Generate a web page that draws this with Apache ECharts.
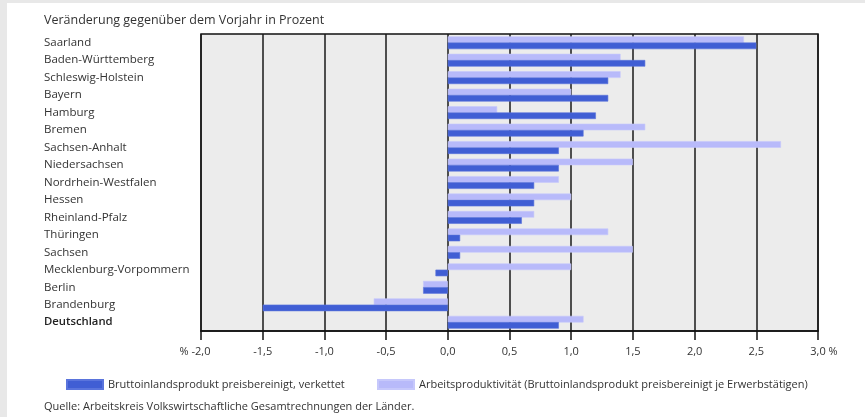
<!DOCTYPE html>
<html>
<head>
<meta charset="utf-8">
<script src="https://cdn.jsdelivr.net/npm/echarts@6/dist/echarts.min.js"></script>
<style>
html,body{margin:0;padding:0;background:#fff;}
#chart{width:865px;height:417px;}
</style>
</head>
<body>
<div id="chart"></div>
<script>
const categories = ['Saarland','Baden-Württemberg','Schleswig-Holstein','Bayern','Hamburg','Bremen','Sachsen-Anhalt','Niedersachsen','Nordrhein-Westfalen','Hessen','Rheinland-Pfalz','Thüringen','Sachsen','Mecklenburg-Vorpommern','Berlin','Brandenburg','Deutschland'];
const bipValues = [2.5,1.6,1.3,1.3,1.2,1.1,0.9,0.9,0.7,0.7,0.6,0.1,0.1,-0.1,-0.2,-1.5,0.9];
const apValues = [2.4,1.4,1.4,1.0,0.4,1.6,2.7,1.5,0.9,1.0,0.7,1.3,1.5,1.0,-0.2,-0.6,1.1];
const xTicks = [-2,-1.5,-1,-0.5,0,0.5,1,1.5,2,2.5,3];
const bipName = 'Bruttoinlandsprodukt preisbereinigt, verkettet';
const apName = 'Arbeitsproduktivität (Bruttoinlandsprodukt preisbereinigt je Erwerbstätigen)';
const titleText = 'Veränderung gegenüber dem Vorjahr in Prozent';
const sourceText = 'Quelle: Arbeitskreis Volkswirtschaftliche Gesamtrechnungen der Länder.';

const FONT = '"Open Sans", sans-serif';
const TXT = '#333';
const chart = echarts.init(document.getElementById('chart'), null, {renderer:'canvas'});
function fmt(v){ return v.toFixed(1).replace('.', ','); }
chart.setOption({
  backgroundColor:'#fff',
  animation:false,
  graphic:[
    {type:'rect', shape:{x:0,y:0,width:865,height:3}, style:{fill:'#e8e8e8'}, silent:true},
    {type:'rect', shape:{x:0,y:0,width:7,height:417}, style:{fill:'#e8e8e8'}, silent:true},
    {type:'text', left:44, top:14, style:{text:titleText, font:'12.5px ' + FONT, fill:TXT}},
    {type:'text', left:44, top:401, style:{text:sourceText, font:'11px ' + FONT, fill:TXT}}
  ],
  grid:{left:201, right:47, top:34, bottom:86, show:true, backgroundColor:'#ececec', borderColor:'#111', borderWidth:1.5},
  legend:[
    {data:[bipName], left:66, top:379, itemWidth:36, itemHeight:9, itemGap:0, icon:'rect', padding:0,
     textStyle:{fontFamily:FONT, fontSize:11, color:TXT}},
    {data:[apName], left:377, top:379, itemWidth:36, itemHeight:9, itemGap:0, icon:'rect', padding:0,
     textStyle:{fontFamily:FONT, fontSize:11, color:TXT}}
  ],
  xAxis:{
    type:'value', min:xTicks[0], max:xTicks[xTicks.length-1], interval:0.5,
    axisLine:{show:true, lineStyle:{color:'#111', width:1.5}},
    axisTick:{show:true, length:9, lineStyle:{color:'#111', width:1.5}},
    splitLine:{show:true, lineStyle:{color:'#1a1a1a', width:1.5}},
    axisLabel:{
      margin:15, fontFamily:FONT, fontSize:11, color:TXT,
      formatter:function(v){
        if (v === xTicks[0]) return '{p|% }' + fmt(v) + '{h|% }';
        if (v === xTicks[xTicks.length-1]) return '{h| %}' + fmt(v) + '{p| %}';
        return fmt(v);
      },
      rich:{
        p:{fontFamily:FONT, fontSize:11, color:TXT},
        h:{fontFamily:FONT, fontSize:11, color:'rgba(0,0,0,0)'}
      }
    }
  },
  yAxis:{
    type:'category', inverse:true, data:categories,
    axisLine:{show:false}, axisTick:{show:false}, splitLine:{show:false},
    axisLabel:{
      align:'left', margin:157, fontFamily:FONT, fontSize:11.5, color:TXT,
      formatter:function(v){ return v === 'Deutschland' ? '{b|' + v + '}' : v; },
      rich:{b:{fontFamily:FONT, fontSize:11.3, fontWeight:600, color:'#222'}}
    }
  },
  series:[
    {name:apName, type:'bar', data:apValues, barWidth:6.6, barGap:'-6%',
     itemStyle:{color:'#b8bafa', borderColor:'#c6c8fb', borderWidth:0.6}},
    {name:bipName, type:'bar', data:bipValues, barWidth:6.6, barGap:'-6%',
     itemStyle:{color:'#405ed4', borderColor:'#5a74dc', borderWidth:0.6}}
  ]
});
</script>
</body>
</html>
